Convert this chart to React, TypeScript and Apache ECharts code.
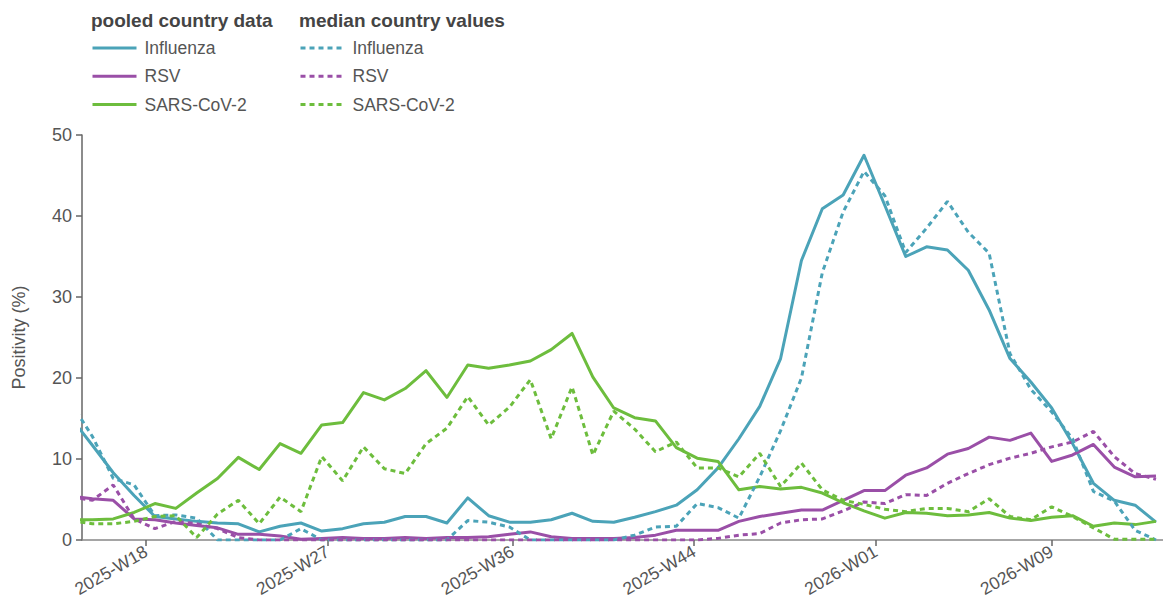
import { useEffect, useRef } from 'react';
import * as echarts from 'echarts';

// ISO weeks of the observations (each plotted at the Sunday that ends the week)
const weeks = [
  '2025-W14', '2025-W15', '2025-W16', '2025-W17', '2025-W18', '2025-W19', '2025-W20', '2025-W21',
  '2025-W22', '2025-W23', '2025-W24', '2025-W25', '2025-W26', '2025-W27', '2025-W28', '2025-W29',
  '2025-W30', '2025-W31', '2025-W32', '2025-W33', '2025-W34', '2025-W35', '2025-W36', '2025-W37',
  '2025-W38', '2025-W39', '2025-W40', '2025-W41', '2025-W42', '2025-W43', '2025-W44', '2025-W45',
  '2025-W46', '2025-W47', '2025-W48', '2025-W49', '2025-W50', '2025-W51', '2025-W52', '2026-W01',
  '2026-W02', '2026-W03', '2026-W04', '2026-W05', '2026-W06', '2026-W07', '2026-W08', '2026-W09',
  '2026-W10', '2026-W11', '2026-W12', '2026-W13', '2026-W14',
];

// pooled country data (solid)
const influenzaPooled = [
  15.0, 11.7, 8.3, 5.5, 2.9, 2.6, 2.3, 2.1, 2.0, 1.0, 1.7, 2.1, 1.1, 1.4, 2.0, 2.2,
  2.9, 2.9, 2.1, 5.2, 3.0, 2.2, 2.2, 2.5, 3.3, 2.3, 2.2, 2.8, 3.5, 4.3, 6.2, 8.9,
  12.5, 16.5, 22.4, 34.5, 40.9, 42.6, 47.5, 41.3, 35.0, 36.2, 35.8, 33.3, 28.4, 22.4, 19.5, 16.3,
  11.9, 7.0, 4.9, 4.3, 2.2,
];
const rsvPooled = [
  5.4, 5.1, 4.9, 2.6, 2.5, 2.1, 1.8, 1.5, 0.7, 0.7, 0.5, 0.1, 0.2, 0.3, 0.2, 0.2,
  0.3, 0.2, 0.3, 0.3, 0.4, 0.7, 1.0, 0.4, 0.2, 0.2, 0.2, 0.3, 0.6, 1.2, 1.2, 1.2,
  2.3, 2.9, 3.3, 3.7, 3.7, 4.9, 6.1, 6.1, 8.0, 8.9, 10.6, 11.3, 12.7, 12.3, 13.2, 9.7,
  10.5, 11.8, 9.0, 7.8, 7.9,
];
const covidPooled = [
  2.5, 2.5, 2.6, 3.4, 4.5, 3.9, 5.8, 7.6, 10.2, 8.7, 11.9, 10.7, 14.2, 14.5, 18.2, 17.3,
  18.7, 20.9, 17.6, 21.6, 21.2, 21.6, 22.1, 23.5, 25.5, 20.1, 16.3, 15.1, 14.7, 11.4, 10.1, 9.7,
  6.2, 6.6, 6.3, 6.5, 5.8, 4.6, 3.6, 2.7, 3.4, 3.3, 3.0, 3.1, 3.4, 2.7, 2.4, 2.8,
  3.0, 1.7, 2.1, 1.9, 2.3,
];

// median country values (dotted)
const influenzaMedian = [
  16.8, 12.8, 7.6, 6.8, 3.0, 3.1, 2.7, 0.0, 0.0, 0.0, 0.0, 1.4, 0.0, 0.0, 0.0, 0.0,
  0.0, 0.0, 0.0, 2.4, 2.2, 1.6, 0.0, 0.0, 0.0, 0.0, 0.0, 0.6, 1.6, 1.7, 4.5, 4.0,
  2.7, 7.8, 13.5, 20.0, 33.0, 40.5, 45.5, 42.5, 35.5, 38.5, 41.8, 38.0, 35.4, 23.0, 18.6, 15.8,
  12.5, 6.0, 4.8, 1.2, 0.0,
];
const rsvMedian = [
  5.3, 4.9, 6.8, 2.6, 1.4, 2.3, 2.0, 1.4, 0.3, 0.0, 0.0, 0.0, 0.0, 0.0, 0.0, 0.0,
  0.0, 0.0, 0.0, 0.0, 0.0, 0.0, 0.0, 0.0, 0.0, 0.0, 0.0, 0.0, 0.0, 0.0, 0.0, 0.2,
  0.6, 0.8, 2.1, 2.5, 2.6, 3.6, 4.7, 4.5, 5.6, 5.5, 7.0, 8.2, 9.3, 10.1, 10.7, 11.5,
  12.1, 13.4, 10.3, 8.2, 7.5,
];
const covidMedian = [
  2.4, 2.0, 2.0, 2.3, 2.9, 3.0, 0.3, 3.2, 4.9, 2.0, 5.3, 3.5, 10.3, 7.3, 11.5, 8.8,
  8.2, 11.9, 13.8, 17.7, 14.2, 16.4, 19.8, 12.5, 18.9, 10.5, 15.9, 13.7, 10.9, 12.1, 8.9, 8.9,
  7.8, 10.7, 6.6, 9.5, 6.2, 4.9, 4.4, 3.8, 3.5, 3.9, 3.9, 3.5, 5.1, 2.9, 2.5, 4.1,
  2.9, 1.5, 0.1, 0.1, 0.1,
];

const viruses = ['Influenza', 'RSV', 'SARS-CoV-2'];
const colors = ['#4ba3b8', '#9a4fa7', '#6dbd3d'];
const pooledSets = [influenzaPooled, rsvPooled, covidPooled];
const medianSets = [influenzaMedian, rsvMedian, covidMedian];

// x-axis tick dates (labelled by ISO week) and visible date window
const tickDates = ['2025-05-01', '2025-07-01', '2025-09-01', '2025-11-01', '2026-01-01', '2026-03-01'];
const xWindow = ['2025-04-09T12:30:00Z', '2026-04-07T08:30:00Z'];

const DAY = 86400000;
const MEDIAN_SUFFIX = ' (median)';

function weekEnd(label: string): number {
  const [y, w] = label.split('-W').map(Number);
  const jan4 = Date.UTC(y, 0, 4);
  const dow = (new Date(jan4).getUTCDay() + 6) % 7;
  return jan4 - dow * DAY + (w - 1) * 7 * DAY + 6 * DAY;
}

function isoWeekLabel(ts: number): string {
  const d = new Date(ts);
  const dayNum = (d.getUTCDay() + 6) % 7;
  const thursday = Date.UTC(d.getUTCFullYear(), d.getUTCMonth(), d.getUTCDate()) - dayNum * DAY + 3 * DAY;
  const year = new Date(thursday).getUTCFullYear();
  const week = 1 + Math.floor((thursday - Date.UTC(year, 0, 1)) / DAY / 7);
  return `${year}-W${String(week).padStart(2, '0')}`;
}

const FONT = '"Liberation Sans", Arial, Helvetica, sans-serif';

export default function App() {
  const ref = useRef<HTMLDivElement>(null);

  useEffect(() => {
    if (!ref.current) return;
    const chart = echarts.init(ref.current, undefined, { renderer: 'svg' });
    const xs = weeks.map(weekEnd);
    const tickValues = tickDates.map((d) => Date.parse(d + 'T00:00:00Z'));

    const series: any[] = [];
    viruses.forEach((v, k) => {
      series.push({
        name: v,
        type: 'line',
        data: xs.map((x, i) => [x, pooledSets[k][i]]),
        symbol: 'none',
        showSymbol: false,
        clip: true,
        lineStyle: { color: colors[k], width: 3, join: 'round' },
        itemStyle: { color: colors[k] },
        z: 2,
      });
    });
    viruses.forEach((v, k) => {
      series.push({
        name: v + MEDIAN_SUFFIX,
        type: 'line',
        data: xs.map((x, i) => [x, medianSets[k][i]]),
        symbol: 'none',
        showSymbol: false,
        clip: true,
        lineStyle: { color: colors[k], width: 3, type: [5, 4] },
        itemStyle: { color: colors[k] },
        z: 3,
      });
    });

    const legendText = { fontSize: 17.5, color: '#555', fontFamily: FONT, lineHeight: 20 };
    const hiddenSymbol = { color: 'rgba(0,0,0,0)', borderColor: 'rgba(0,0,0,0)', borderWidth: 0, opacity: 0 };

    chart.setOption({
      animation: false,
      textStyle: { fontFamily: FONT },
      grid: { left: 82, right: 0, top: 135, bottom: 75, containLabel: false },
      graphic: [
        {
          type: 'text', left: 91, top: 11,
          style: { text: 'pooled country data', font: `bold 19px ${FONT}`, fill: '#444' },
        },
        {
          type: 'text', left: 299, top: 11,
          style: { text: 'median country values', font: `bold 19px ${FONT}`, fill: '#444' },
        },
      ],
      legend: [
        {
          orient: 'vertical', left: 91, top: 38, padding: 0,
          itemWidth: 44, itemHeight: 14, itemGap: 8.3,
          data: viruses, selectedMode: false,
          lineStyle: { width: 3 },
          itemStyle: hiddenSymbol,
          textStyle: { ...legendText, padding: [0, 0, 0, 3] },
        },
        {
          orient: 'vertical', left: 299, top: 38, padding: 0,
          itemWidth: 41, itemHeight: 14, itemGap: 8.3,
          data: viruses.map((v) => v + MEDIAN_SUFFIX), selectedMode: false,
          lineStyle: { width: 3 },
          itemStyle: hiddenSymbol,
          formatter: (name: string) => name.replace(MEDIAN_SUFFIX, ''),
          textStyle: { ...legendText, padding: [0, 0, 0, 6] },
        },
      ],
      xAxis: {
        type: 'value',
        min: Date.parse(xWindow[0]),
        max: Date.parse(xWindow[1]),
        axisLine: { show: true, lineStyle: { color: '#888', width: 1.5 } },
        axisTick: {
          show: true, length: 6, lineStyle: { color: '#666', width: 1.5 },
          customValues: tickValues,
        },
        axisLabel: {
          rotate: 30, fontSize: 17.5, color: '#555', margin: 10, fontFamily: FONT,
          customValues: tickValues,
          formatter: (val: number) => isoWeekLabel(val),
        },
        splitLine: { show: false },
      },
      yAxis: {
        type: 'value',
        min: 0,
        max: 50,
        interval: 10,
        name: 'Positivity (%)',
        nameLocation: 'middle',
        nameGap: 54,
        nameTextStyle: { fontSize: 18, color: '#555', fontFamily: FONT },
        axisLine: { show: true, lineStyle: { color: '#666', width: 1.5 } },
        axisTick: { show: true, length: 6, lineStyle: { color: '#666', width: 1.5 } },
        axisLabel: { fontSize: 18, color: '#555', margin: 10, fontFamily: FONT },
        splitLine: { show: false },
      },
      series,
    });

    return () => chart.dispose();
  }, []);

  return (
    <div
      ref={ref}
      style={{ position: 'fixed', left: 0, top: 0, width: 1163, height: 615, background: '#fff' }}
    />
  );
}
